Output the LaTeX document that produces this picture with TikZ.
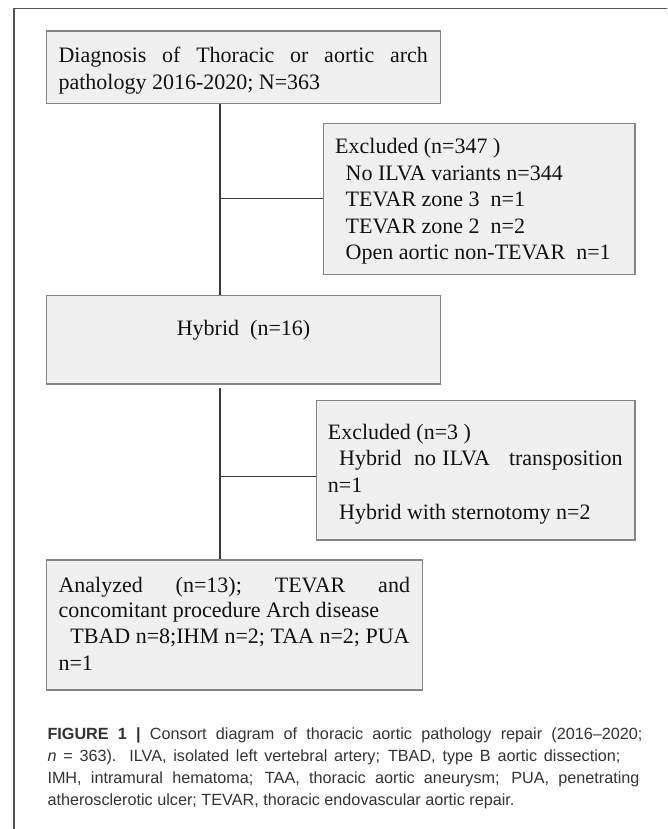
\documentclass[tikz,border=0pt]{standalone}
\usepackage{fontspec}
\usetikzlibrary{calc}
\setmainfont{Liberation Serif}
\newfontfamily\capfont[Ligatures=TeX]{Liberation Sans}
\definecolor{boxfill}{HTML}{F0F0F0}
\definecolor{boxline}{HTML}{858585}
\definecolor{linkcol}{HTML}{3C3C3C}
\definecolor{framecol}{HTML}{555555}
\definecolor{captext}{HTML}{333333}
\definecolor{boxtext}{HTML}{111111}
\tikzset{
  flowbox/.style={draw=boxline, fill=boxfill, line width=1.3pt, inner sep=0pt, rectangle},
  link/.style={draw=linkcol, line width=1.3pt},
  boxtxt/.style={anchor=base west, inner sep=0pt, text=boxtext, font=\fontsize{22}{26.5}\selectfont},
  captxt/.style={anchor=base west, inner sep=0pt, text=captext, font=\capfont\fontsize{16.2}{22}\selectfont},
}
\begin{document}
\begin{tikzpicture}[x=1pt,y=-1pt]
\useasboundingbox (0,0) rectangle (667,829);
% frame
\draw[framecol, line width=1.2pt] (14,829) -- (14,8.5) -- (667,8.5);
% boxes
\node[flowbox, minimum width=393.7pt, minimum height=72.3pt] (box1) at (243.55,67.15) {};
\node[flowbox, minimum width=311.7pt, minimum height=151pt] (ex1) at (479.15,198.8) {};
\node[flowbox, minimum width=393.7pt, minimum height=88.3pt] (hyb) at (243.55,339.85) {};
\node[flowbox, minimum width=318.3pt, minimum height=139.3pt] (ex2) at (475.85,470.35) {};
\node[flowbox, minimum width=375.8pt, minimum height=130pt] (ana) at (234.6,625) {};
% spine coordinates
\coordinate (sp) at (220,0);
\draw[link] (box1.south -| sp) -- (hyb.north -| sp);
\draw[link] (ex1.west -| sp) -- (ex1.west);
\draw[link] ($(hyb.south -| sp)+(0,3.3)$) -- (ana.north -| sp);
\coordinate (ex2in) at ($(ex2.west)+(0,6.4)$);
\draw[link] (ex2in -| sp) -- (ex2in);
% box1 text
\node[boxtxt] (b1a) at (58.3,63) {\makebox[369.4pt][s]{Diagnosis of Thoracic or aortic arch}};
\node[boxtxt] (b1b) at (58.3,89.5) {pathology 2016-2020; N=363};
% ex1 text
\node[boxtxt] (e1a) at (335,154) {Excluded (n=347 )};
\node[boxtxt] (e1b) at (345.5,180.3) {No ILVA variants n=344};
\node[boxtxt] (e1c) at (345.5,206.7) {TEVAR zone 3\ \ n=1};
\node[boxtxt] (e1d) at (345.5,233) {TEVAR zone 2\ \ n=2};
\node[boxtxt] (e1e) at (345.5,259.3) {Open aortic non-TEVAR\ \ n=1};
% hybrid text
\node[boxtxt, anchor=base] (h1) at (243.55,335) {Hybrid\ \ (n=16)};
% ex2 text
\node[boxtxt] (e2a) at (327.7,439.5) {Excluded (n=3 )};
\node[boxtxt] (e2b) at (339,465.7) {\makebox[283.5pt][s]{Hybrid\ \ no ILVA\ \ \ transposition}};
\node[boxtxt] (e2c) at (327.7,492.3) {n=1};
\node[boxtxt] (e2d) at (339,519) {Hybrid with sternotomy n=2};
% analyzed text
\node[boxtxt] (a1) at (58.3,592) {\makebox[351.5pt][s]{Analyzed\ \ \ (n=13);\ \ \ TEVAR\ \ \ and}};
\node[boxtxt] (a2) at (58.3,617.5) {concomitant procedure Arch disease};
\node[boxtxt] (a3) at (70.2,643.5) {TBAD n=8;IHM n=2; TAA n=2; PUA};
\node[boxtxt] (a4) at (58.3,670) {n=1};
% caption
\node[captxt] (c1) at (47.3,739) {\makebox[595pt][s]{\textbf{FIGURE 1 |} Consort diagram of thoracic aortic pathology repair (2016–2020;}};
\node[captxt] (c2) at (47.3,761) {\makebox[573pt][s]{\textit{n} = 363). ILVA, isolated left vertebral artery; TBAD, type B aortic dissection;}};
\node[captxt] (c3) at (47.3,783) {\makebox[592pt][s]{IMH, intramural hematoma; TAA, thoracic aortic aneurysm; PUA, penetrating}};
\node[captxt] (c4) at (47.3,805) {atherosclerotic ulcer; TEVAR, thoracic endovascular aortic repair.};
\end{tikzpicture}
\end{document}
